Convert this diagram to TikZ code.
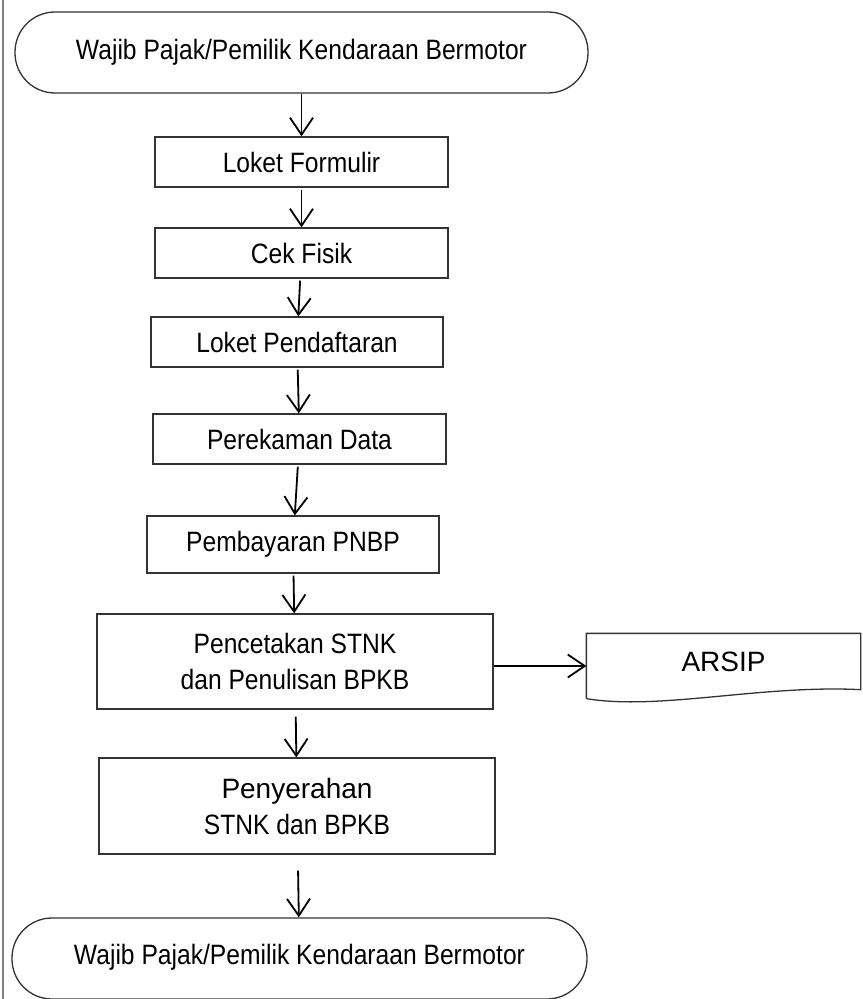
\documentclass[tikz,border=0pt]{standalone}
\usepackage{fontspec}
\setmainfont[FakeStretch=0.88]{Liberation Sans}
\newfontfamily\widefont{Liberation Sans}
\usetikzlibrary{arrows.meta,calc}
\tikzset{
  box/.style={draw=black!80, line width=0.65pt, align=center, inner sep=0pt, font=\fontsize{14}{18}\selectfont},
  term/.style={box, rounded corners=20pt},
  arr/.style={-{Straight Barb[length=8.5pt,width=11.5pt]}, line width=0.9pt},
}
\begin{document}
\begin{tikzpicture}[x=0.5pt,y=-0.5pt]
\useasboundingbox (0,0) rectangle (862,999);
%\draw[help lines] (0,0) grid[step=50] (862,999);
\draw[black!50, line width=1pt] (3,0) -- (3,999);
\node[term, minimum width=286.5pt, minimum height=40.5pt] (wp) at (301.5,52.5) {Wajib Pajak/Pemilik Kendaraan Bermotor};
\node[box, minimum width=146.5pt, minimum height=25pt] (lf) at (301.5,162) {Loket Formulir};
\node[box, minimum width=146.5pt, minimum height=25pt] (cf) at (301.5,253) {Cek Fisik};
\node[box, minimum width=146pt, minimum height=25pt] (lp) at (297,342) {Loket Pendaftaran};
\node[box, minimum width=146.5pt, minimum height=25pt] (pd) at (299.5,439) {Perekaman Data};
\node[box, minimum width=146pt, minimum height=28.5pt] (pb) at (293,544.5) {Pembayaran PNBP};
\node[box, minimum width=198pt, minimum height=47.5pt] (pc) at (295,661.5) {Pencetakan STNK\\dan Penulisan BPKB};
\node[box, draw=none, minimum width=136.5pt, minimum height=32pt, font=\fontsize{14}{18}\widefont] (ar) at (723.5,666) {\raisebox{4.5pt}{ARSIP}};
\node[box, minimum width=198pt, minimum height=48pt] (ps) at (297,806) {{\widefont Penyerahan}\\STNK dan BPKB};
\node[term, minimum width=287.5pt, minimum height=40.5pt] (wq) at (299.5,958.5) {\raisebox{4pt}{Wajib Pajak/Pemilik Kendaraan Bermotor}};
% dokumen arsip
\draw[black!80, line width=0.65pt] (ar.south west) -- (ar.north west) -- (ar.north east) -- ($(ar.south east)+(0,-9)$)
  .. controls ($(ar.south east)+(-100,-14)$) and ($(ar.south west)+(73,12)$) .. (ar.south west);
% alur
\draw[arr] (wp) -- (lf);
\draw[arr, shorten <=1pt] (lf) -- (cf);
\draw[arr, shorten <=1pt] (cf) -- (lp);
\draw[arr, shorten <=1pt] (lp) -- (pd);
\draw[arr, shorten <=1pt] (pd) -- (pb);
\draw[arr, shorten <=1pt] (pb) -- (pc);
\draw[arr, shorten <=3.5pt] (pc) -- (ps);
\draw[arr, shorten <=8pt] (ps) -- (wq);
\draw[arr] (pc.east |- ar.west) -- (ar.west);
\end{tikzpicture}
\end{document}
